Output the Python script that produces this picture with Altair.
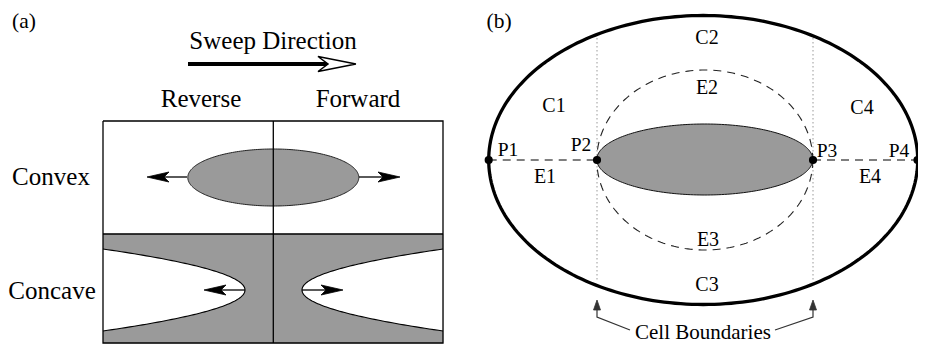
import numpy as np
import pandas as pd
import altair as alt

# ---------------- text labels ----------------
label_text = ["(a)", "Sweep Direction", "Reverse", "Forward", "Convex", "Concave",
              "(b)", "C1", "C2", "C3", "C4", "E1", "E2", "E3", "E4",
              "P1", "P2", "P3", "P4", "Cell Boundaries"]
label_x = [24, 273, 201, 358, 51, 52, 499, 554, 707, 707, 862, 545, 707, 708, 870,
           508, 581, 827, 899, 703]
label_y = [27.5, 49, 107, 107, 185, 299, 27.5, 112, 44, 291, 114, 183, 94, 246, 183,
           156, 151, 157, 157, 339]
label_size = [21.5, 25, 25, 25, 25, 25, 21.5, 20, 20, 20, 20, 20, 20, 20, 20,
              19.5, 19.5, 19.5, 19.5, 21]

# ---------------- panel (a) geometry ----------------
box_left, box_right, box_mid = 103, 443, 273.3
box_top, box_divider, box_bottom = 121, 234, 343

# convex obstacle (ellipse): cx, cy, rx, ry
convex_ell = [273.3, 177.5, 85.5, 28.5]

# concave (white, parabola-like) regions: vertex x, vertex y, edge x, edge y range
concave_vertex_x = [245, 302]
concave_vertex_y = 290
concave_edge_x = [103, 443]
concave_edge_y = [249, 331]

# small black arrows in (a): tip x, shaft start x, y
arrow_tip_x = [147, 400, 204, 343]
arrow_start_x = [187, 359, 245, 302]
arrow_y = [177, 177, 290, 290]

# sweep direction arrow
sweep_x = [188, 328]
sweep_y = 64
sweep_head_x = [318, 328, 356]   # back, notch, tip
sweep_head_half = 7.5

# ---------------- panel (b) geometry ----------------
outer_ell = [703.2, 160, 214.5, 144.5]
cell_dash_ell = [704.8, 160, 108, 90]
obstacle_ell = [704.8, 159.5, 108, 35.5]

boundary_x = [597, 813]
boundary_y = [38, 281]

point_x = [488.7, 597, 813, 917.5]
point_y = [160, 160, 160, 160]

pointer_start_x = [630, 775]
pointer_start_y = 330
pointer_knee_y = 317
pointer_tip_y = 300

SERIF = '"Liberation Serif", "Times New Roman", Times, "DejaVu Serif", serif'

# ---------------- helpers ----------------
X = alt.X("x:Q", scale=alt.Scale(domain=[8, 918], nice=False, zero=False), axis=None)
Y = alt.Y("y:Q", scale=alt.Scale(domain=[8, 344], nice=False, zero=False, reverse=True), axis=None)


def ellipse_pts(e, n=240):
    cx, cy, rx, ry = e
    t = np.linspace(0, 2 * np.pi, n + 1)
    return cx + rx * np.cos(t), cy + ry * np.sin(t)


def path_df(paths):
    rows = []
    for k, (xs, ys) in enumerate(paths):
        for i, (x, y) in enumerate(zip(xs, ys)):
            rows.append({"shape": k, "i": i, "x": float(x), "y": float(y)})
    return pd.DataFrame(rows)


def lines(paths, **mark):
    return alt.Chart(path_df(paths)).mark_line(interpolate="linear", **mark).encode(
        x=X, y=Y, order=alt.Order("i:Q"), detail="shape:N")


def stealth(tip, y, direction, length=22, half=5, notch=5):
    back = tip - direction * length
    nx = tip - direction * (length - notch)
    return ([tip, back, nx, back, tip], [y, y - half, y, y + half, y])


layers = []

# gray lower region (a)
layers.append(lines([([box_left, box_right, box_right, box_left],
                      [box_divider, box_divider, box_bottom, box_bottom])],
                    fill="#9a9a9a", stroke="#9a9a9a", strokeWidth=0.5))

# white concave regions
conc = []
for vx, ex in zip(concave_vertex_x, concave_edge_x):
    half = concave_edge_y[1] - concave_vertex_y
    k = (vx - ex) / half ** 2
    ys = np.linspace(concave_edge_y[0], concave_edge_y[1], 121)
    xs = vx - k * (ys - concave_vertex_y) ** 2
    conc.append((xs, ys))
layers.append(lines(conc, fill="white", stroke="black", strokeWidth=1.1))

# convex ellipse
layers.append(lines([ellipse_pts(convex_ell)], fill="#9a9a9a", stroke="#222222", strokeWidth=1))

# frame of panel (a)
frame = [
    ([box_left, box_right, box_right, box_left, box_left],
     [box_top, box_top, box_bottom, box_bottom, box_top]),
    ([box_left, box_right], [box_divider, box_divider]),
    ([box_mid, box_mid], [box_top, box_bottom]),
]
layers.append(lines(frame, stroke="black", strokeWidth=1.3))

# small arrows in (a)
shafts, heads = [], []
for tx, sx, ay in zip(arrow_tip_x, arrow_start_x, arrow_y):
    d = 1 if tx > sx else -1
    shafts.append(([sx, tx - d * 12], [ay, ay]))
    heads.append(stealth(tx, ay, d))
layers.append(lines(shafts, stroke="black", strokeWidth=1.3))
layers.append(lines(heads, fill="black", stroke="black", strokeWidth=0.8))

# sweep direction arrow
layers.append(lines([(sweep_x, [sweep_y, sweep_y])], stroke="black", strokeWidth=4))
hb, hn, ht = sweep_head_x
layers.append(lines([([ht, hb, hn, hb, ht],
                      [sweep_y, sweep_y - sweep_head_half, sweep_y,
                       sweep_y + sweep_head_half, sweep_y])],
                    fill="white", stroke="black", strokeWidth=1.5))

# ---- panel (b)
layers.append(lines([([bx, bx], boundary_y) for bx in boundary_x],
                    stroke="#999999", strokeWidth=1, strokeDash=[1.5, 2.5]))
layers.append(lines([ellipse_pts(outer_ell)], stroke="black", strokeWidth=3.3))
layers.append(lines([ellipse_pts(cell_dash_ell)], stroke="#222222", strokeWidth=1.1,
                    strokeDash=[8, 6]))
layers.append(lines([([point_x[0], point_x[1]], [160, 160]),
                     ([point_x[2], point_x[3]], [160, 160])],
                    stroke="#555555", strokeWidth=1.3, strokeDash=[8, 6]))
layers.append(lines([ellipse_pts(obstacle_ell)], fill="#9a9a9a", stroke="#111111", strokeWidth=1))

pts = pd.DataFrame({"x": point_x, "y": point_y})
layers.append(alt.Chart(pts).mark_point(filled=True, shape="circle", size=66,
                                        color="black", opacity=1).encode(x=X, y=Y))

ptr, ptr_heads = [], []
for sx, bx in zip(pointer_start_x, boundary_x):
    ptr.append(([sx, bx, bx], [pointer_start_y, pointer_knee_y, pointer_tip_y + 8]))
    ptr_heads.append(([bx, bx - 3.5, bx + 3.5, bx],
                      [pointer_tip_y, pointer_tip_y + 10, pointer_tip_y + 10, pointer_tip_y]))
layers.append(lines(ptr, stroke="#333333", strokeWidth=1.2))
layers.append(lines(ptr_heads, fill="#333333", stroke="#333333", strokeWidth=0.8))

# ---- texts
labels = pd.DataFrame({"text": label_text, "x": label_x, "y": label_y, "fs": label_size})
layers.append(alt.Chart(labels).mark_text(font=SERIF, align="center",
                                          baseline="alphabetic", color="black").encode(
    x=X, y=Y, text="text:N", size=alt.Size("fs:Q", scale=None)))

chart = alt.layer(*layers).properties(
    width=910, height=336, padding=0,
    autosize=alt.AutoSizeParams(type="none"),
).configure_view(stroke=None)

chart.save("out.html", embed_options={"renderer": "svg", "actions": False})
